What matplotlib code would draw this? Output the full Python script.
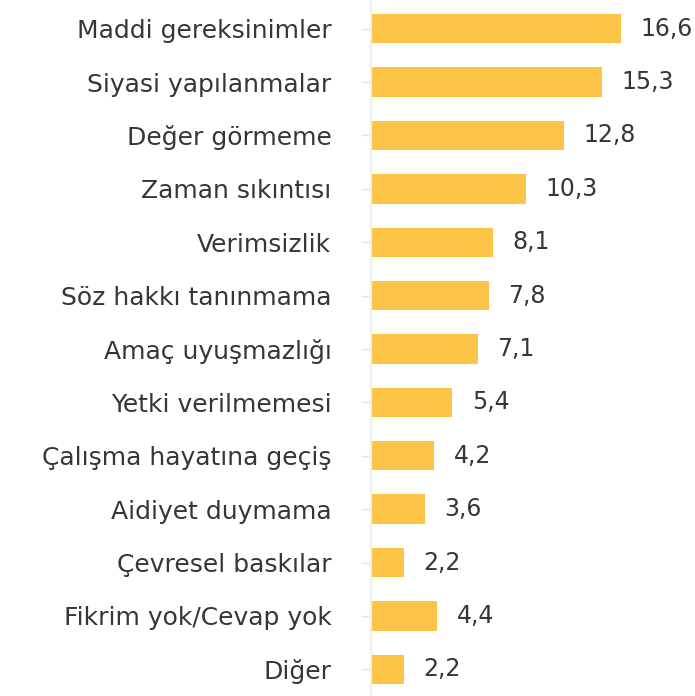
import matplotlib.pyplot as plt

categories = ['Maddi gereksinimler', 'Siyasi yapılanmalar', 'Değer görmeme',
              'Zaman sıkıntısı', 'Verimsizlik', 'Söz hakkı tanınmama',
              'Amaç uyuşmazlığı', 'Yetki verilmemesi', 'Çalışma hayatına geçiş',
              'Aidiyet duymama', 'Çevresel baskılar', 'Fikrim yok/Cevap yok', 'Diğer']
values = [16.6, 15.3, 12.8, 10.3, 8.1, 7.8, 7.1, 5.4, 4.2, 3.6, 2.2, 4.4, 2.2]

plt.rcParams['font.family'] = ['DejaVu Sans']

fig = plt.figure(figsize=(6.95, 6.96), dpi=100)
ax = fig.add_axes([371 / 695, 0.0, 324 / 695, 1 - 2 / 696])

y = range(len(categories))
ax.barh(y, values, height=0.55, color='#FCC447')
for yi, v in zip(y, values):
    ax.annotate(f'{v:.1f}'.replace('.', ','), (v, yi), xytext=(14, 0),
                textcoords='offset points', va='center', ha='left',
                fontsize=17, color='#363636')

ax.set_yticks(list(y))
ax.set_yticklabels(categories, fontsize=18, color='#363636')
ax.tick_params(axis='y', length=7.5, width=1, color='#e4e4e4', pad=21)
ax.set_xlim(0, 21.5)
ax.set_ylim(len(categories) - 0.5, -0.5)
ax.set_xticks([])
for s in ['top', 'right', 'bottom']:
    ax.spines[s].set_visible(False)
ax.spines['left'].set_color('#eeeeee')
ax.spines['left'].set_linewidth(1.5)

plt.savefig('out.png', dpi=100)
